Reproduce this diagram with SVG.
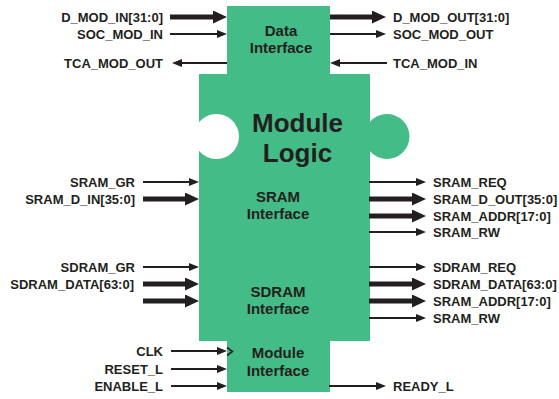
<svg xmlns="http://www.w3.org/2000/svg" width="559" height="399" viewBox="0 0 559 399">
<style>
.sig{font-family:"Liberation Sans",Arial,sans-serif;font-weight:bold;font-size:13px;fill:#231f20}
.l{text-anchor:end}
.blk{font-family:"Liberation Sans",Arial,sans-serif;font-weight:bold;font-size:15px;fill:#231f20;text-anchor:middle}
.big{font-family:"Liberation Sans",Arial,sans-serif;font-weight:bold;font-size:26px;fill:#231f20;text-anchor:middle}
.thin{stroke:#231f20;stroke-width:2;fill:none;marker-end:url(#ah)}
.thick{stroke:#231f20;stroke-width:5;fill:none;marker-end:url(#ahb)}
</style>
<defs>
<marker id="ah" markerUnits="userSpaceOnUse" markerWidth="10" markerHeight="8" refX="0.5" refY="4" orient="auto" viewBox="0 0 10 8"><path d="M0,0 L10,4 L0,8 Z" fill="#231f20"/></marker>
<marker id="ahb" markerUnits="userSpaceOnUse" markerWidth="14" markerHeight="13" refX="0.5" refY="6.5" orient="auto" viewBox="0 0 14 13"><path d="M0,0 L14,6.5 L0,13 Z" fill="#231f20"/></marker>
</defs>
<rect width="559" height="399" fill="#ffffff"/>
<g id="module">
<path d="M227,6 H330 V74 H370 V121.76 A22.5,22.5 0 1 1 370,151.24 V341 H330 V392 H227 V341 H199 V150.64 A22.5,22.5 0 1 0 199,122.36 V74 H227 Z" fill="#43bc87"/>
<g id="module-logic"><text class="big" x="297.5" y="132">Module</text><text class="big" x="297.5" y="162">Logic</text></g>
</g>
<g id="data-interface"><text class="blk" x="281" y="36">Data</text><text class="blk" x="281" y="53">Interface</text></g>
<g id="sram-interface"><text class="blk" x="278" y="202">SRAM</text><text class="blk" x="278" y="219">Interface</text></g>
<g id="sdram-interface"><text class="blk" x="278" y="297">SDRAM</text><text class="blk" x="278" y="314">Interface</text></g>
<g id="module-interface"><text class="blk" x="278" y="358">Module</text><text class="blk" x="278" y="376">Interface</text><polyline points="227,347.5 232.5,351.5 227,355.5" fill="none" stroke="#231f20" stroke-width="1.6"/></g>
<g id="connectors">
<line class="thick" x1="170" y1="17" x2="213.5" y2="17"/>
<line class="thin" x1="170" y1="34" x2="217.5" y2="34"/>
<line class="thin" x1="227" y1="63" x2="181.5" y2="63"/>
<line class="thick" x1="330" y1="17" x2="372.5" y2="17"/>
<line class="thin" x1="330" y1="34" x2="376.5" y2="34"/>
<line class="thin" x1="387" y1="63" x2="339.5" y2="63"/>
<line class="thin" x1="143" y1="182" x2="189.5" y2="182"/>
<line class="thick" x1="143" y1="199" x2="185.5" y2="199"/>
<line class="thin" x1="143" y1="267" x2="189.5" y2="267"/>
<line class="thick" x1="143" y1="284" x2="185.5" y2="284"/>
<line class="thick" x1="143" y1="301" x2="185.5" y2="301"/>
<line class="thin" x1="369" y1="182" x2="416.5" y2="182"/>
<line class="thick" x1="369" y1="199" x2="412.5" y2="199"/>
<line class="thick" x1="369" y1="216" x2="412.5" y2="216"/>
<line class="thin" x1="369" y1="232" x2="416.5" y2="232"/>
<line class="thin" x1="369" y1="267" x2="416.5" y2="267"/>
<line class="thick" x1="369" y1="284" x2="412.5" y2="284"/>
<line class="thick" x1="369" y1="301" x2="412.5" y2="301"/>
<line class="thin" x1="369" y1="318" x2="416.5" y2="318"/>
<line class="thin" x1="171" y1="351" x2="217.5" y2="351"/>
<line class="thin" x1="171" y1="369" x2="217.5" y2="369"/>
<line class="thin" x1="171" y1="386" x2="217.5" y2="386"/>
<line class="thin" x1="329" y1="386" x2="376.5" y2="386"/>
</g>
<g id="signal-labels">
<text class="sig l" x="163" y="21.7">D_MOD_IN[31:0]</text>
<text class="sig l" x="163" y="38.7">SOC_MOD_IN</text>
<text class="sig l" x="163" y="67.7">TCA_MOD_OUT</text>
<text class="sig" x="393" y="21.7">D_MOD_OUT[31:0]</text>
<text class="sig" x="393" y="38.7">SOC_MOD_OUT</text>
<text class="sig" x="393" y="67.7">TCA_MOD_IN</text>
<text class="sig l" x="135" y="186.7">SRAM_GR</text>
<text class="sig l" x="135" y="203.7">SRAM_D_IN[35:0]</text>
<text class="sig l" x="135" y="271.7">SDRAM_GR</text>
<text class="sig l" x="134" y="288.7">SDRAM_DATA[63:0]</text>
<text class="sig" x="433" y="186.7">SRAM_REQ</text>
<text class="sig" x="433" y="203.7">SRAM_D_OUT[35:0]</text>
<text class="sig" x="433" y="220.7">SRAM_ADDR[17:0]</text>
<text class="sig" x="433" y="236.7">SRAM_RW</text>
<text class="sig" x="433" y="271.7">SDRAM_REQ</text>
<text class="sig" x="433" y="288.7">SDRAM_DATA[63:0]</text>
<text class="sig" x="433" y="305.7">SRAM_ADDR[17:0]</text>
<text class="sig" x="433" y="322.7">SRAM_RW</text>
<text class="sig l" x="163" y="355.7">CLK</text>
<text class="sig l" x="163" y="373.7">RESET_L</text>
<text class="sig l" x="163" y="390.7">ENABLE_L</text>
<text class="sig" x="393" y="390.7">READY_L</text>
</g>
</svg>
